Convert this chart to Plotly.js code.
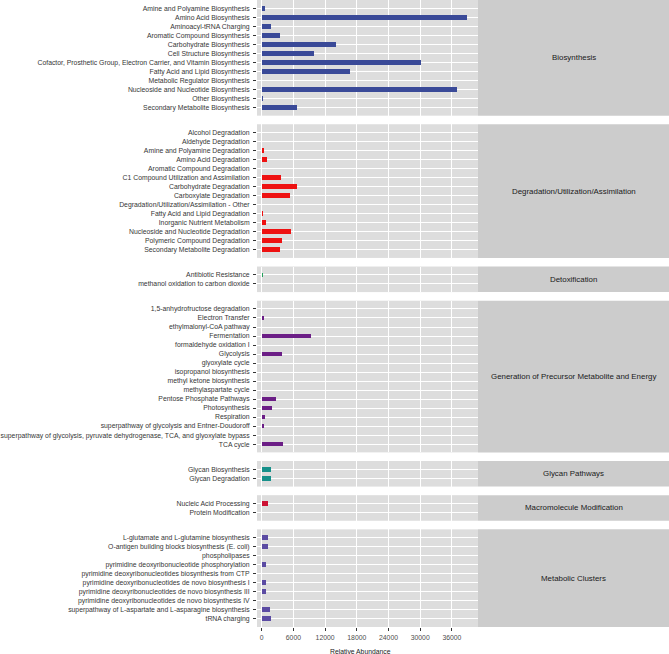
<!DOCTYPE html>
<html>
<head>
<meta charset="utf-8">
<script src="https://cdn.plot.ly/plotly-3.0.1.min.js"></script>
<style>
  html, body { margin: 0; padding: 0; background: #fff; }
  #chart { width: 669px; height: 654px; }
</style>
</head>
<body>
<div id="chart"></div>
<script>
// facet names (right-hand strips)
const facets = [
  'Biosynthesis',
  'Degradation/Utilization/Assimilation',
  'Detoxification',
  'Generation of Precursor Metabolite and Energy',
  'Glycan Pathways',
  'Macromolecule Modification',
  'Metabolic Clusters'
];

const facetColors = ['#3A4A98', '#EE1111', '#22A05A', '#6B1E86', '#16908A', '#CC1133', '#5B4BA3'];

const bioPathways = [
  'Amine and Polyamine Biosynthesis', 'Amino Acid Biosynthesis', 'Aminoacyl-tRNA Charging',
  'Aromatic Compound Biosynthesis', 'Carbohydrate Biosynthesis', 'Cell Structure Biosynthesis',
  'Cofactor, Prosthetic Group, Electron Carrier, and Vitamin Biosynthesis',
  'Fatty Acid and Lipid Biosynthesis', 'Metabolic Regulator Biosynthesis',
  'Nucleoside and Nucleotide Biosynthesis', 'Other Biosynthesis', 'Secondary Metabolite Biosynthesis'
];
const bioValues = [650, 38800, 1700, 3470, 14000, 9840, 30100, 16700, 100, 36900, 250, 6630];

const degPathways = [
  'Alcohol Degradation', 'Aldehyde Degradation', 'Amine and Polyamine Degradation',
  'Amino Acid Degradation', 'Aromatic Compound Degradation', 'C1 Compound Utilization and Assimilation',
  'Carbohydrate Degradation', 'Carboxylate Degradation', 'Degradation/Utilization/Assimilation - Other',
  'Fatty Acid and Lipid Degradation', 'Inorganic Nutrient Metabolism', 'Nucleoside and Nucleotide Degradation',
  'Polymeric Compound Degradation', 'Secondary Metabolite Degradation'
];
const degValues = [150, 0, 440, 950, 60, 3660, 6690, 5300, 0, 250, 820, 5550, 3790, 3470];

const detoxPathways = ['Antibiotic Resistance', 'methanol oxidation to carbon dioxide'];
const detoxValues = [220, 0];

const genPathways = [
  '1,5-anhydrofructose degradation', 'Electron Transfer', 'ethylmalonyl-CoA pathway', 'Fermentation',
  'formaldehyde oxidation I', 'Glycolysis', 'glyoxylate cycle', 'isopropanol biosynthesis',
  'methyl ketone biosynthesis', 'methylaspartate cycle', 'Pentose Phosphate Pathways', 'Photosynthesis',
  'Respiration', 'superpathway of glycolysis and Entner-Doudoroff',
  'superpathway of glycolysis, pyruvate dehydrogenase, TCA, and glyoxylate bypass', 'TCA cycle'
];
const genValues = [0, 460, 0, 9270, 0, 3850, 0, 0, 0, 0, 2650, 1950, 630, 440, 60, 3970];

const glycanPathways = ['Glycan Biosynthesis', 'Glycan Degradation'];
const glycanValues = [1830, 1700];

const macroPathways = ['Nucleic Acid Processing', 'Protein Modification'];
const macroValues = [1200, 0];

const clusterPathways = [
  'L-glutamate and L-glutamine biosynthesis', 'O-antigen building blocks biosynthesis (E. coli)',
  'phospholipases', 'pyrimidine deoxyribonucleotide phosphorylation',
  'pyrimidine deoxyribonucleotides biosynthesis from CTP',
  'pyrimidine deoxyribonucleotides de novo biosynthesis I',
  'pyrimidine deoxyribonucleotides de novo biosynthesis III',
  'pyrimidine deoxyribonucleotides de novo biosynthesis IV',
  'superpathway of L-aspartate and L-asparagine biosynthesis', 'tRNA charging'
];
const clusterValues = [1140, 1260, 0, 760, 0, 820, 760, 0, 1510, 1830];

const xTicks = [0, 6000, 12000, 18000, 24000, 30000, 36000];

const groups = [
  [bioPathways, bioValues],
  [degPathways, degValues],
  [detoxPathways, detoxValues],
  [genPathways, genValues],
  [glycanPathways, glycanValues],
  [macroPathways, macroValues],
  [clusterPathways, clusterValues]
];

// panel geometry (pixels)
const W = 669, H = 654;
const mL = 257, mR = 191, mT = 0, mB = 27;
const plotH = H - mT - mB;
const gap = 8.6;
const pad = 0.92;

const units = groups.map(g => g[0].length - 1 + 2 * pad);
const totalUnits = units.reduce((a, b) => a + b, 0);
const rowPx = (plotH - gap * (groups.length - 1)) / totalUnits;

const traces = [];
const layout = {
  width: W,
  height: H,
  margin: { l: mL, r: mR, t: mT, b: mB },
  paper_bgcolor: '#FFFFFF',
  plot_bgcolor: '#DDDDDD',
  showlegend: false,
  bargap: 0,
  font: { family: 'Liberation Sans, Arial, sans-serif', color: '#444444' },
  xaxis: {
    anchor: 'y7',
    domain: [0, 1],
    range: [-890, 40940],
    tickvals: xTicks,
    ticktext: xTicks.map(String),
    ticks: 'outside',
    ticklen: 3,
    tickwidth: 1,
    tickcolor: '#333333',
    ticklabelstandoff: 1,
    tickfont: { size: 6.85, color: '#4D4D4D' },
    showgrid: true,
    gridcolor: '#FFFFFF',
    gridwidth: 1.1,
    zeroline: false,
    showline: false,
    fixedrange: true
  },
  shapes: [],
  annotations: []
};

let cursorPx = 0;
groups.forEach((g, i) => {
  const names = g[0], vals = g[1];
  const hPx = units[i] * rowPx;
  const y1 = 1 - cursorPx / plotH;
  const y0 = 1 - (cursorPx + hPx) / plotH;
  cursorPx += hPx + gap;

  const ya = i === 0 ? 'y' : 'y' + (i + 1);
  const key = i === 0 ? 'yaxis' : 'yaxis' + (i + 1);

  layout[key] = {
    domain: [y0, y1],
    anchor: 'x',
    type: 'category',
    categoryorder: 'array',
    categoryarray: names,
    range: [names.length - 1 + pad, -pad],
    ticks: 'outside',
    ticklen: 3,
    tickwidth: 1,
    tickcolor: '#333333',
    ticklabelstandoff: 2,
    tickfont: { size: 6.85, color: '#363636' },
    showgrid: true,
    gridcolor: '#FFFFFF',
    gridwidth: 1,
    zeroline: false,
    showline: false,
    fixedrange: true
  };

  traces.push({
    type: 'bar',
    orientation: 'h',
    x: vals,
    y: names,
    xaxis: 'x',
    yaxis: ya,
    width: 0.5,
    marker: { color: facetColors[i], line: { width: 0 } },
    hoverinfo: 'x+y'
  });

  // facet strip on the right
  layout.shapes.push({
    type: 'rect',
    xref: 'paper', yref: 'paper',
    x0: 1, x1: (W - mL) / (W - mL - mR),
    y0: y0, y1: y1,
    fillcolor: '#CCCCCC',
    line: { width: 0 },
    layer: 'below'
  });
  layout.annotations.push({
    xref: 'paper', yref: 'paper',
    x: (1 + (W - mL) / (W - mL - mR)) / 2,
    y: (y0 + y1) / 2,
    text: facets[i],
    showarrow: false,
    xanchor: 'center', yanchor: 'middle',
    font: { size: 7.9, color: '#1A1A1A' }
  });
});

// x axis title
layout.annotations.push({
  xref: 'paper', yref: 'paper',
  x: (360.7 - mL) / (W - mL - mR),
  y: (plotH - 651.5 + mT) / plotH,
  text: 'Relative Abundance',
  showarrow: false,
  xanchor: 'center', yanchor: 'middle',
  font: { size: 6.8, color: '#1A1A1A' }
});

Plotly.newPlot('chart', traces, layout, { displayModeBar: false, staticPlot: true });
</script>
</body>
</html>
